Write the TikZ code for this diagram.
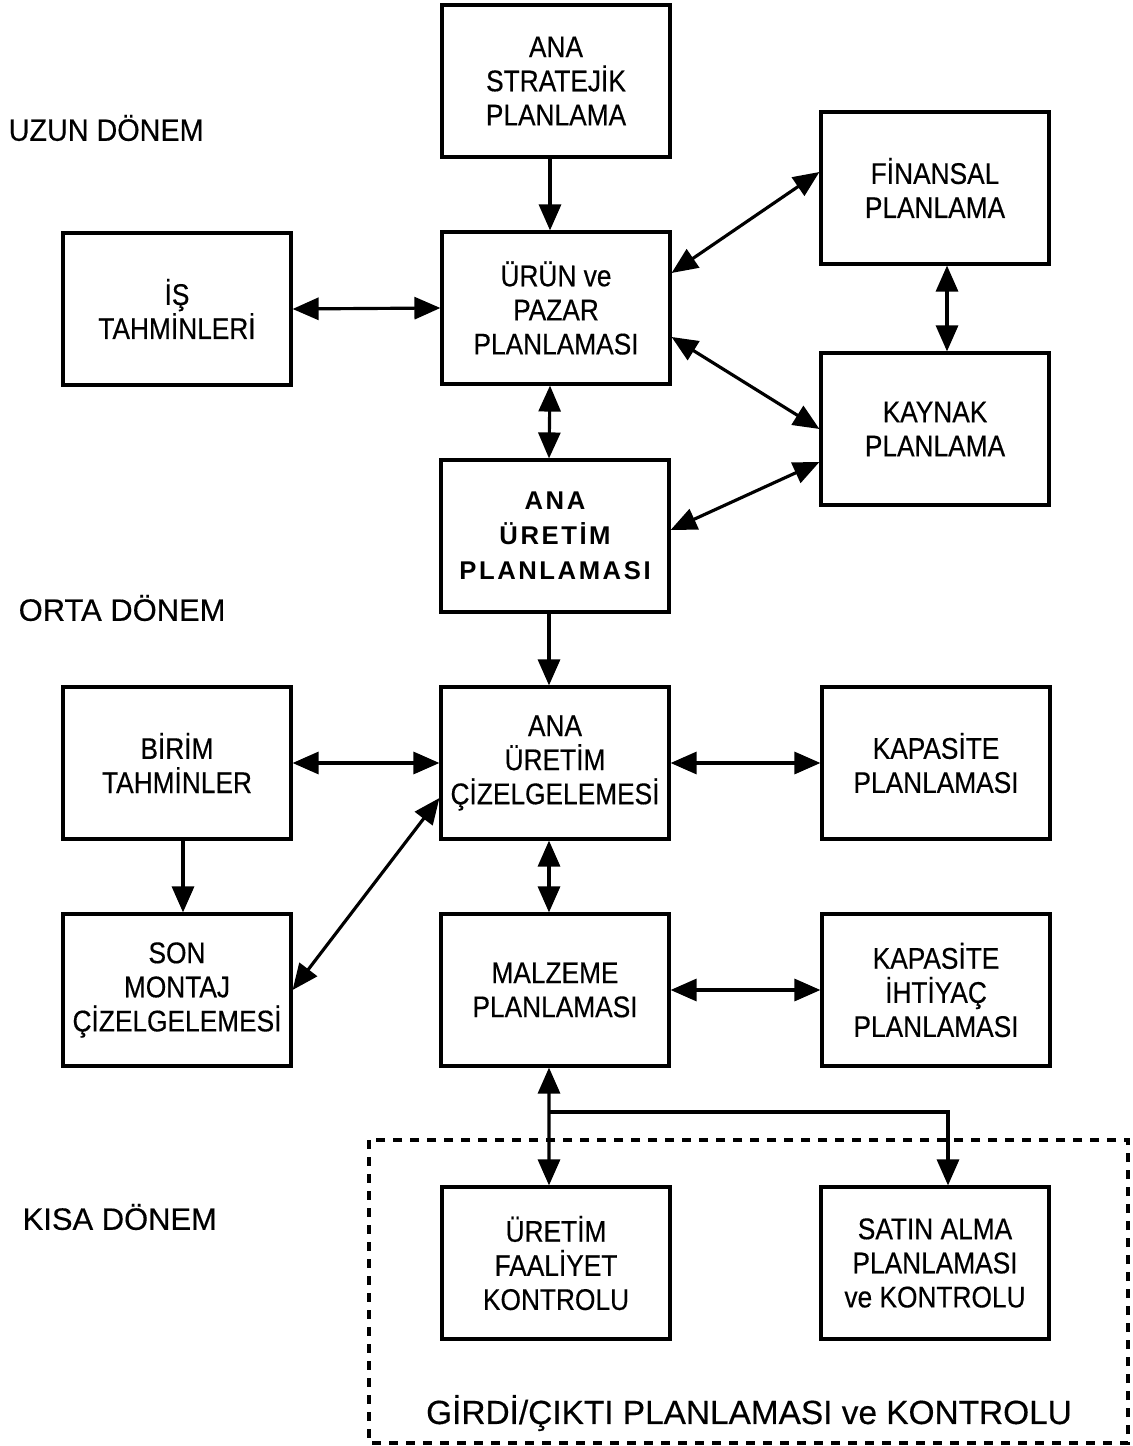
\documentclass[tikz,border=0pt]{standalone}
\usepackage{fontspec}
\setmainfont{Liberation Sans}[FakeBold=0.4]
\newfontfamily\boxfont{Liberation Sans}[FakeStretch=0.88,FakeBold=0.4]
\newfontfamily\narrowfont{Liberation Sans}[FakeStretch=0.93,FakeBold=0.4]
\newfontfamily\spacedfont{Liberation Sans}[LetterSpace=10]
\usetikzlibrary{arrows.meta}
\tikzstyle{arrow} = [line width=0.9pt,-{Triangle[length=2.6mm,width=2.2mm]}]
\tikzstyle{darrow} = [line width=0.9pt,{Triangle[length=2.6mm,width=2.2mm]}-{Triangle[length=2.6mm,width=2.2mm]}]
\tikzstyle{kutu} = [draw,line width=0.9pt,minimum width=2.28cm,minimum height=1.52cm,inner sep=0pt,align=center,font=\boxfont\fontsize{8.5}{9.7}\selectfont]
\tikzstyle{donem} = [anchor=west,inner sep=0pt,font=\fontsize{8.8}{10}\selectfont]

\begin{document}
\begin{tikzpicture}[x=0.1mm,y=-0.1mm]
\useasboundingbox (0,0) rectangle (1132,1446);

% period labels
\node[donem,font=\narrowfont\fontsize{8.8}{10}\selectfont] (uzun) at (8,128) {UZUN DÖNEM};
\node[donem] (orta) at (18,608) {ORTA DÖNEM};
\node[donem] (kisa) at (22,1217) {KISA DÖNEM};

% boxes
\node[kutu] (strat) at (556,81) {ANA\\STRATEJİK\\PLANLAMA};
\node[kutu] (urun) at (556,308) {ÜRÜN ve\\PAZAR\\PLANLAMASI};
\node[kutu] (is) at (177,309) {İŞ\\TAHMİNLERİ};
\node[kutu] (finans) at (935,188) {FİNANSAL\\PLANLAMA};
\node[kutu] (kaynak) at (935,429) {KAYNAK\\PLANLAMA};
\node[kutu,font=\spacedfont\bfseries\fontsize{7.3}{10}\selectfont] (aup) at (555,536) {ANA\\ÜRETİM\\PLANLAMASI};
\node[kutu] (auc) at (555,763) {ANA\\ÜRETİM\\ÇİZELGELEMESİ};
\node[kutu] (birim) at (177,763) {BİRİM\\TAHMİNLER};
\node[kutu] (kapasite) at (936,763) {KAPASİTE\\PLANLAMASI};
\node[kutu] (son) at (177,990) {SON\\MONTAJ\\ÇİZELGELEMESİ};
\node[kutu] (malzeme) at (555,990) {MALZEME\\PLANLAMASI};
\node[kutu] (kih) at (936,990) {KAPASİTE\\İHTİYAÇ\\PLANLAMASI};
\node[kutu] (ufk) at (556,1263) {ÜRETİM\\FAALİYET\\KONTROLU};
\node[kutu] (satin) at (935,1263) {SATIN ALMA\\PLANLAMASI\\ve KONTROLU};

% input/output frame
\draw[line width=0.9pt,dash pattern=on 0.9mm off 0.8mm] (369,1140) rectangle (1128,1443);
\node[font=\fontsize{9.5}{11}\selectfont,inner sep=0pt] (girdi) at (749,1413) {GİRDİ/ÇIKTI PLANLAMASI ve KONTROLU};

% connectors
\draw[arrow] ([xshift=-0.6mm]strat.south) -- ([xshift=-0.6mm]urun.north);
\draw[darrow] (is.east) -- (urun.west);
\draw[darrow] ([yshift=3.5mm]urun.east) -- ([yshift=1.6mm]finans.west);
\draw[darrow] ([yshift=-2.9mm]urun.east) -- (kaynak.west);
\draw[darrow] ([xshift=1.2mm]finans.south) -- ([xshift=1.2mm]kaynak.north);
\draw[darrow] ([xshift=-0.6mm]urun.south) -- ([xshift=-0.6mm]aup.north);
\draw[darrow] ([yshift=0.6mm]aup.east) -- ([yshift=-3.3mm]kaynak.west);
\draw[arrow] ([xshift=-0.6mm]aup.south) -- ([xshift=-0.6mm]auc.north);
\draw[darrow] (birim.east) -- (auc.west);
\draw[darrow] (auc.east) -- (kapasite.west);
\draw[arrow] ([xshift=0.6mm]birim.south) -- ([xshift=0.6mm]son.north);
\draw[darrow] (son.east) -- ([yshift=-3.5mm]auc.west);
\draw[darrow] ([xshift=-0.6mm]auc.south) -- ([xshift=-0.6mm]malzeme.north);
\draw[darrow] (malzeme.east) -- (kih.west);
\draw[darrow] ([xshift=-0.6mm]malzeme.south) -- ([xshift=-0.7mm]ufk.north);
\coordinate (kol) at (549,1112);
\draw[arrow] (kol) -| ([xshift=1.3mm]satin.north);

\end{tikzpicture}
\end{document}
